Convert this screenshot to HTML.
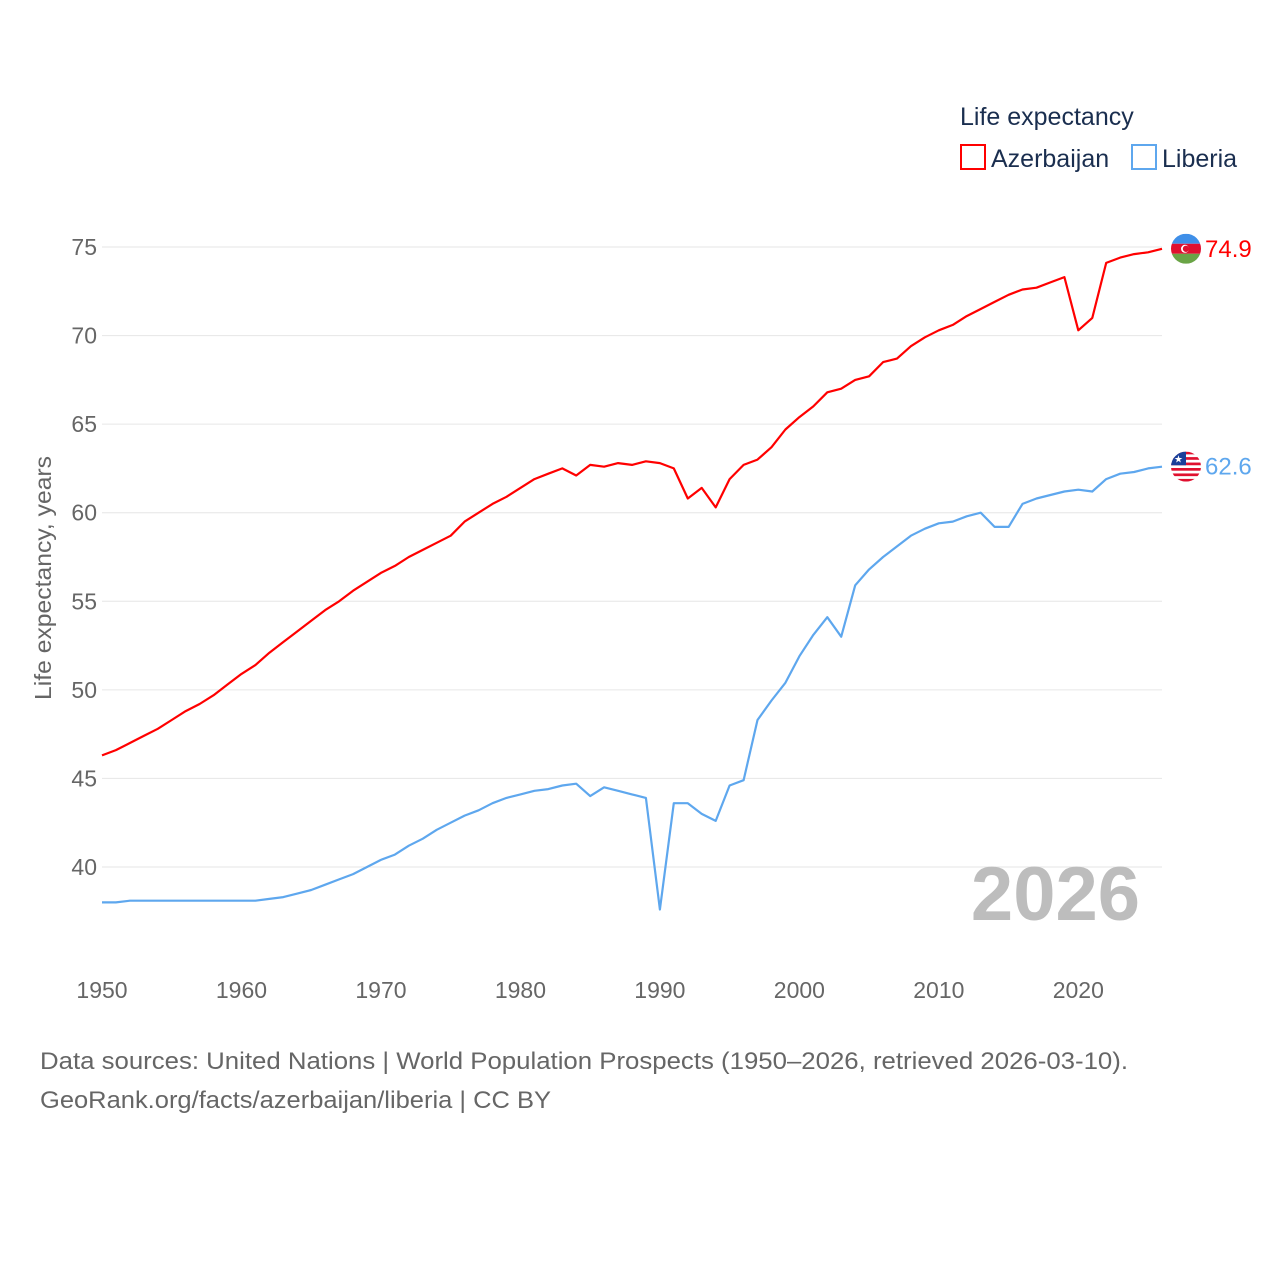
<!DOCTYPE html>
<html><head><meta charset="utf-8"><style>
html,body{margin:0;padding:0;background:#fff;}
svg{display:block;font-family:"Liberation Sans",sans-serif;}
</style></head><body>
<svg id="chart" width="1280" height="1280" viewBox="0 0 1280 1280" xmlns="http://www.w3.org/2000/svg">
<rect width="1280" height="1280" fill="#fff"/>
<g id="grid"></g>
<g id="yticks"></g>
<g id="xticks"></g>
<text transform="translate(51,578) rotate(-90)" text-anchor="middle" font-size="23" fill="#666" textLength="244" lengthAdjust="spacingAndGlyphs">Life expectancy, years</text>
<text x="1140" y="920" text-anchor="end" font-size="76" font-weight="bold" fill="#bdbdbd">2026</text>
<g id="series"></g>
<g>
<text x="960" y="125" font-size="25" fill="#1a2e4f">Life expectancy</text>
<g>
<rect x="961" y="145" width="24" height="24" fill="none" stroke="#ff0000" stroke-width="2"/>
<text x="991" y="167" font-size="25" fill="#1a2e4f">Azerbaijan</text></g>
<g>
<rect x="1132" y="145" width="24" height="24" fill="none" stroke="#5ea7ee" stroke-width="2"/>
<text x="1162" y="167" font-size="25" fill="#1a2e4f">Liberia</text></g>
</g>
<g id="endlabels"></g>
<text x="40" y="1069" font-size="24" fill="#666" textLength="1088" lengthAdjust="spacingAndGlyphs">Data sources: United Nations | World Population Prospects (1950–2026, retrieved 2026-03-10).</text>
<text x="40" y="1108" font-size="24" fill="#666" textLength="511" lengthAdjust="spacingAndGlyphs">GeoRank.org/facts/azerbaijan/liberia | CC BY</text>
</svg>
<script>
const years = [];
for (let y = 1950; y <= 2026; y++) years.push(y);
const azerbaijan = [46.3,46.6,47.0,47.4,47.8,48.3,48.8,49.2,49.7,50.3,50.9,51.4,52.1,52.7,53.3,53.9,54.5,55.0,55.6,56.1,56.6,57.0,57.5,57.9,58.3,58.7,59.5,60.0,60.5,60.9,61.4,61.9,62.2,62.5,62.1,62.7,62.6,62.8,62.7,62.9,62.8,62.5,60.8,61.4,60.3,61.9,62.7,63.0,63.7,64.7,65.4,66.0,66.8,67.0,67.5,67.7,68.5,68.7,69.4,69.9,70.3,70.6,71.1,71.5,71.9,72.3,72.6,72.7,73.0,73.3,70.3,71.0,74.1,74.4,74.6,74.7,74.9];
const liberia = [38.0,38.0,38.1,38.1,38.1,38.1,38.1,38.1,38.1,38.1,38.1,38.1,38.2,38.3,38.5,38.7,39.0,39.3,39.6,40.0,40.4,40.7,41.2,41.6,42.1,42.5,42.9,43.2,43.6,43.9,44.1,44.3,44.4,44.6,44.7,44.0,44.5,44.3,44.1,43.9,37.6,43.6,43.6,43.0,42.6,44.6,44.9,48.3,49.4,50.4,51.9,53.1,54.1,53.0,55.9,56.8,57.5,58.1,58.7,59.1,59.4,59.5,59.8,60.0,59.2,59.2,60.5,60.8,61.0,61.2,61.3,61.2,61.9,62.2,62.3,62.5,62.6];
const yTicks = [40,45,50,55,60,65,70,75];
const xTicks = [1950,1960,1970,1980,1990,2000,2010,2020];

const NS = "http://www.w3.org/2000/svg";
const X0 = 102, X1 = 1162;
const xs = y => X0 + (y - 1950) * (X1 - X0) / (2026 - 1950);
const ys = v => 247 + (75 - v) * (867 - 247) / 35;
function mk(tag, attrs, parent) {
  const e = document.createElementNS(NS, tag);
  for (const k in attrs) e.setAttribute(k, attrs[k]);
  parent.appendChild(e); return e;
}
const grid = document.getElementById('grid'), yt = document.getElementById('yticks'), xt = document.getElementById('xticks');
yTicks.forEach(v => {
  const l = mk('line', {x1: X0, x2: X1, y1: ys(v), y2: ys(v), stroke: '#e6e6e6', 'stroke-width': 1}, grid);
  
  
  const t = mk('text', {x: 97, y: ys(v) + 8, 'text-anchor': 'end', 'font-size': 23, fill: '#666'}, yt);
  t.textContent = v;
  
  
});
xTicks.forEach(y => {
  const t = mk('text', {x: xs(y), y: 998, 'text-anchor': 'middle', 'font-size': 23, fill: '#666'}, xt);
  t.textContent = y;
  
  
});
const sg = document.getElementById('series');
[[azerbaijan, '#ff0000', 'azerbaijan'], [liberia, '#5ea7ee', 'liberia']].forEach(([d, c, n]) => {
  const p = mk('path', {d: d.map((v, i) => (i ? 'L' : 'M') + xs(years[i]).toFixed(1) + ',' + ys(v).toFixed(1)).join(''), fill: 'none', stroke: c, 'stroke-width': 2.2, 'stroke-linejoin': 'round'}, sg);
  
  
});
const el = document.getElementById('endlabels');
const cx = 1186;
{
  const v = azerbaijan[azerbaijan.length - 1], cy = ys(v);
  const g = mk('g', {}, el);
  
  
  const cp = mk('clipPath', {id: 'cA'}, g);
  mk('circle', {cx: cx, cy: cy, r: 15}, cp);
  mk('rect', {x: cx - 15, y: cy - 15, width: 30, height: 10, fill: '#3f8fe8', 'clip-path': 'url(#cA)'}, g);
  mk('rect', {x: cx - 15, y: cy - 5, width: 30, height: 10, fill: '#e0102f', 'clip-path': 'url(#cA)'}, g);
  mk('rect', {x: cx - 15, y: cy + 5, width: 30, height: 10, fill: '#6aa446', 'clip-path': 'url(#cA)'}, g);
  mk('circle', {cx: cx - 1, cy: cy, r: 4, fill: '#fff'}, g);
  mk('circle', {cx: cx, cy: cy, r: 3.2, fill: '#e0102f'}, g);
  const t = mk('text', {x: 1205, y: cy + 8, 'font-size': 24, fill: '#ff0000'}, el);
  t.textContent = v.toFixed(1);
  
  
}
{
  const v = liberia[liberia.length - 1], cy = ys(v);
  const g = mk('g', {}, el);
  
  
  const cp = mk('clipPath', {id: 'cL'}, g);
  mk('circle', {cx: cx, cy: cy, r: 15}, cp);
  mk('rect', {x: cx - 15, y: cy - 15, width: 30, height: 30, fill: '#fff', 'clip-path': 'url(#cL)'}, g);
  for (let i = 0; i < 6; i++) mk('rect', {x: cx - 15, y: cy - 15 + i * 5.45, width: 30, height: 2.7, fill: '#e0102f', 'clip-path': 'url(#cL)'}, g);
  mk('rect', {x: cx - 15, y: cy - 15, width: 15, height: 13.6, fill: '#1a3f9a', 'clip-path': 'url(#cL)'}, g);
  const s = mk('text', {x: cx - 7.5, y: cy - 4, 'text-anchor': 'middle', 'font-size': 10, fill: '#fff'}, g);
  s.textContent = '★';
  const t = mk('text', {x: 1205, y: cy + 8, 'font-size': 24, fill: '#5ea7ee'}, el);
  t.textContent = v.toFixed(1);
  
  
}
</script>
</body></html>
